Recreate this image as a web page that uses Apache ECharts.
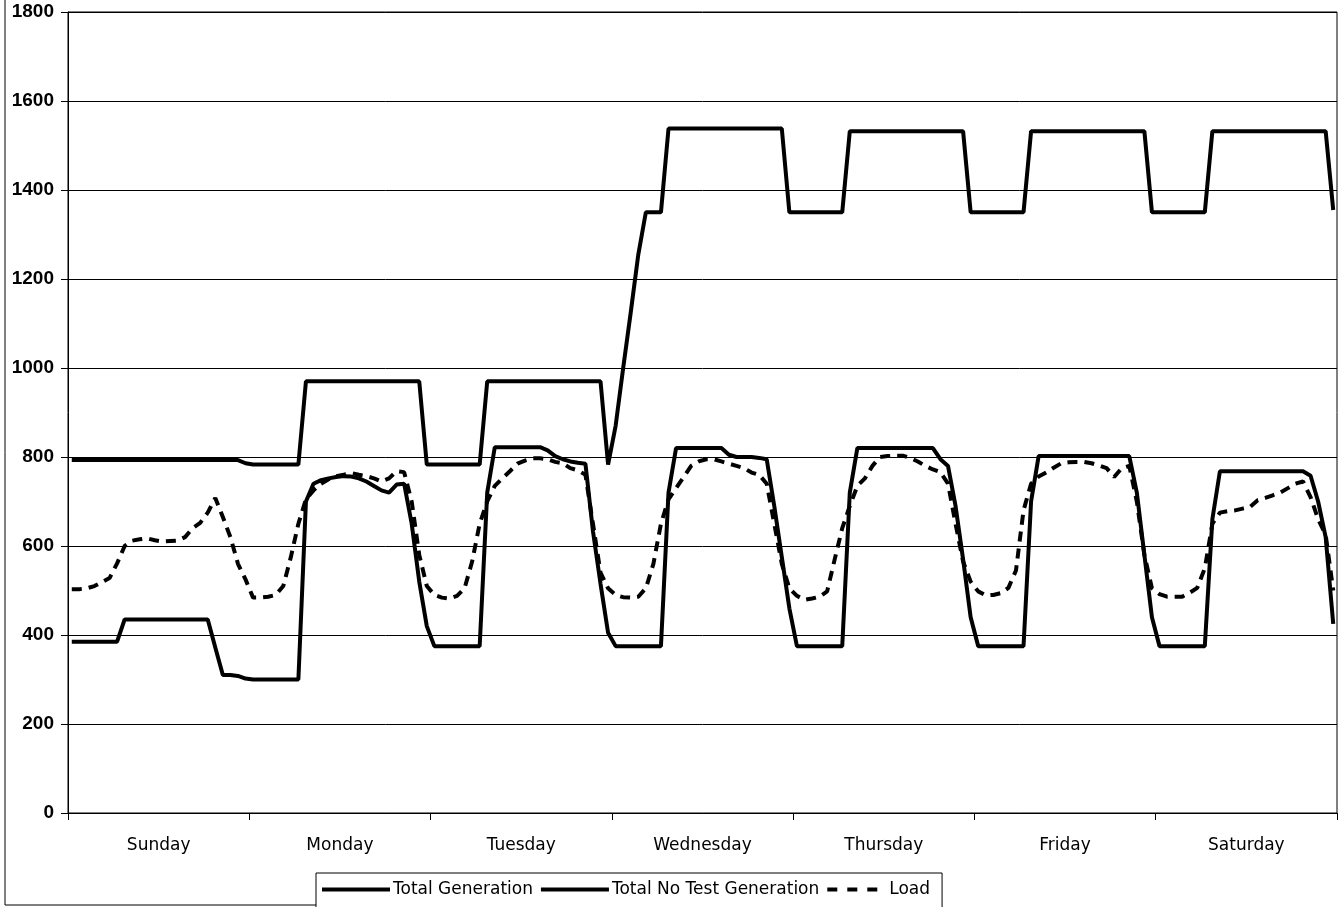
<!DOCTYPE html>
<html>
<head>
<meta charset="utf-8">
<script src="https://cdn.jsdelivr.net/npm/echarts@6/dist/echarts.min.js"></script>
<style>
html,body{margin:0;padding:0;background:#fff;}
#chart{width:1339px;height:907px;}
</style>
</head>
<body>
<div id="chart"></div>
<script>
// Day labels (one per 24 hourly points)
const days = ['Sunday','Monday','Tuesday','Wednesday','Thursday','Friday','Saturday'];
const yTicks = [0,200,400,600,800,1000,1200,1400,1600,1800];
const seriesNames = ['Total Generation','Total No Test Generation','Load'];

// Total Generation, hourly, one array per day
const genSun = [793,793,793,793,793,793,793,793,793,793,793,793,793,793,793,793,793,793,793,793,793,793,793,786];
const genMon = [783,783,783,783,783,783,783,970,970,970,970,970,970,970,970,970,970,970,970,970,970,970,970,783];
const genTue = [783,783,783,783,783,783,783,970,970,970,970,970,970,970,970,970,970,970,970,970,970,970,970,783];
const genWed = [870,1000,1125,1255,1350,1350,1350,1538,1538,1538,1538,1538,1538,1538,1538,1538,1538,1538,1538,1538,1538,1538,1538,1350];
const genThu = [1350,1350,1350,1350,1350,1350,1350,1532,1532,1532,1532,1532,1532,1532,1532,1532,1532,1532,1532,1532,1532,1532,1532,1350];
const genFri = [1350,1350,1350,1350,1350,1350,1350,1532,1532,1532,1532,1532,1532,1532,1532,1532,1532,1532,1532,1532,1532,1532,1532,1350];
const genSat = [1350,1350,1350,1350,1350,1350,1350,1532,1532,1532,1532,1532,1532,1532,1532,1532,1532,1532,1532,1532,1532,1532,1532,1355];

// Total No Test Generation
const ntSun = [385,385,385,385,385,385,385,435,435,435,435,435,435,435,435,435,435,435,435,372,310,310,308,302];
const ntMon = [300,300,300,300,300,300,300,700,740,748,752,755,757,756,752,745,735,725,720,738,740,650,520,420];
const ntTue = [375,375,375,375,375,375,375,720,822,822,822,822,822,822,822,815,802,795,790,787,785,633,515,405];
const ntWed = [375,375,375,375,375,375,375,720,820,820,820,820,820,820,820,805,800,800,800,798,795,690,575,460];
const ntThu = [375,375,375,375,375,375,375,720,820,820,820,820,820,820,820,820,820,820,820,795,780,690,570,440];
const ntFri = [375,375,375,375,375,375,375,700,802,802,802,802,802,802,802,802,802,802,802,802,802,720,580,440];
const ntSat = [375,375,375,375,375,375,375,660,768,768,768,768,768,768,768,768,768,768,768,768,758,700,620,425];

// Load
const ldSun = [503,503,505,510,519,528,561,600,612,615,617,613,610,611,612,620,640,652,675,708,665,620,560,525];
const ldMon = [484,484,486,490,510,575,650,705,725,740,750,757,760,764,760,757,752,745,752,768,766,700,580,510];
const ldTue = [490,484,482,488,505,565,650,700,735,752,768,785,792,797,797,795,789,786,775,770,760,650,540,505];
const ldWed = [490,485,484,486,505,560,650,705,730,755,780,790,795,795,790,785,780,775,765,760,740,650,560,505];
const ldThu = [488,479,482,486,498,570,640,690,735,752,780,800,802,803,803,798,790,780,772,766,740,650,565,520];
const ldFri = [498,489,490,494,506,545,680,740,756,765,776,786,788,789,789,786,781,775,755,775,780,700,580,505];
const ldSat = [492,486,486,486,495,506,550,650,675,678,680,684,688,703,708,714,720,730,740,745,710,660,625,500];

const totalGen = [].concat(genSun,genMon,genTue,genWed,genThu,genFri,genSat);
const noTest = [].concat(ntSun,ntMon,ntTue,ntWed,ntThu,ntFri,ntSat);
const load = [].concat(ldSun,ldMon,ldTue,ldWed,ldThu,ldFri,ldSat);

// hour index -> centre of its hour slot on the value axis
const toPts = arr => arr.map((v, i) => [i + 0.5, v]);

const FONT = "'DejaVu Sans', Verdana, sans-serif";
const DASH_ICON = 'path://M0,0H10V4H0Z M20,0H30V4H20Z M40,0H50V4H40Z';
const chart = echarts.init(document.getElementById('chart'), null, {renderer: 'canvas'});
chart.setOption({
  backgroundColor: '#fff',
  animation: false,
  grid: {left: 68, right: 2, top: 12, bottom: 94, show: true, borderColor: '#000', borderWidth: 1},
  legend: {
    left: 316, top: 873,
    data: [
      {name: seriesNames[0], icon: 'rect'},
      {name: seriesNames[1], icon: 'rect'},
      {name: seriesNames[2], icon: DASH_ICON}
    ],
    itemWidth: 68, itemHeight: 4, itemGap: 8,
    itemStyle: {color: '#000', borderWidth: 0},
    padding: [8, 12, 10, 6],
    borderColor: '#000', borderWidth: 1, backgroundColor: '#fff',
    textStyle: {fontFamily: FONT, fontSize: 17, color: '#000', padding: [0, 0, 0, -2]}
  },
  xAxis: [
    {
      type: 'value', min: 0, max: 168, interval: 24,
      axisLine: {show: true, lineStyle: {color: '#000', width: 1}},
      axisTick: {show: true, length: 7, lineStyle: {color: '#000'}},
      axisLabel: {show: false},
      splitLine: {show: false}
    },
    {
      type: 'category', data: days, position: 'bottom', boundaryGap: true,
      axisLine: {show: false}, axisTick: {show: false}, splitLine: {show: false},
      axisLabel: {margin: 24, fontFamily: FONT, fontSize: 17, color: '#000'}
    }
  ],
  yAxis: {
    type: 'value', min: yTicks[0], max: yTicks[yTicks.length - 1], interval: 200,
    axisLine: {show: true, lineStyle: {color: '#000', width: 1}},
    axisTick: {show: true, length: 7, lineStyle: {color: '#000'}},
    axisLabel: {margin: 14, fontFamily: "'Liberation Sans', Arial, sans-serif", fontWeight: 'bold', fontSize: 19, color: '#000',
      formatter: v => String(v)},
    splitLine: {show: true, lineStyle: {color: '#000', width: 1}}
  },
  series: [
    {name: seriesNames[0], type: 'line', xAxisIndex: 0, data: toPts(totalGen), showSymbol: false, symbol: 'none',
     lineStyle: {color: '#000', width: 4}, itemStyle: {color: '#000'}},
    {name: seriesNames[1], type: 'line', xAxisIndex: 0, data: toPts(noTest), showSymbol: false, symbol: 'none',
     lineStyle: {color: '#000', width: 4}, itemStyle: {color: '#000'}},
    {name: seriesNames[2], type: 'line', xAxisIndex: 0, data: toPts(load), showSymbol: false, symbol: 'none',
     lineStyle: {color: '#000', width: 4, type: [10, 7]}, itemStyle: {color: '#000'}}
  ],
  graphic: [
    {type: 'line', shape: {x1: 5, y1: 0, x2: 5, y2: 905}, style: {stroke: '#000', lineWidth: 1}, z: -1},
    {type: 'line', shape: {x1: 5, y1: 905, x2: 316, y2: 905}, style: {stroke: '#000', lineWidth: 1}, z: -1}
  ]
});
</script>
</body>
</html>
